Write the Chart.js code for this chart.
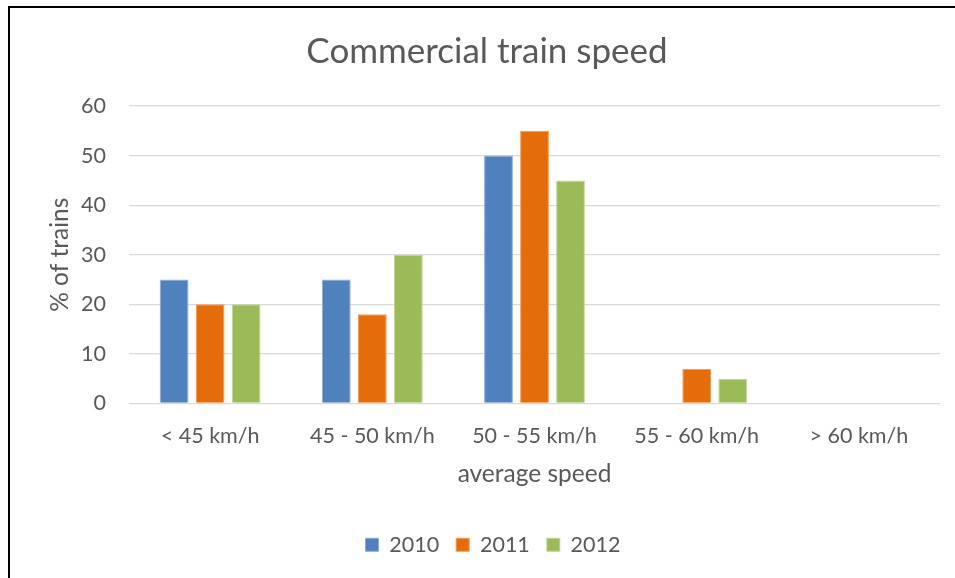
<!DOCTYPE html>
<html>
<head>
<meta charset="utf-8">
<script src="https://cdn.jsdelivr.net/npm/chart.js@4/dist/chart.umd.min.js"></script>
<style>
  html, body { margin: 0; padding: 0; background: #fff; overflow: hidden; }
  #wrap { position: absolute; left: 0; top: 0; width: 955px; height: 578px; }
  #frame { position: absolute; left: 8px; top: 6px; width: 1000px; height: 700px;
           border-left: 2px solid #000; border-top: 2px solid #000; pointer-events: none; }
</style>
</head>
<body>
<div id="wrap"><canvas id="speedChart" width="955" height="578"></canvas></div>
<div id="frame"></div>
<script>
// Chart data
const categories = ['< 45 km/h', '45 - 50 km/h', '50 - 55 km/h', '55 - 60 km/h', '> 60 km/h'];
const years = ['2010', '2011', '2012'];
const values2010 = [25, 25, 50, 0, 0];
const values2011 = [20, 18, 55, 7, 0];
const values2012 = [20, 30, 45, 5, 0];
const yTicks = [0, 10, 20, 30, 40, 50, 60];

const colors = ['#4F81BD', '#E46C0A', '#9BBB59'];
const borders = ['#8EAADB', '#F19A57', '#C0D696'];
const textColor = '#595959';
const fontFamily = 'Lato, "Liberation Sans", sans-serif';

const seriesValues = [values2010, values2011, values2012];

// Nudge title and legend a bit to the right, like the original
const boxShift = {
    id: 'boxShift',
    afterLayout(chart) {
        if (chart.legend) {
            chart.legend.left += 23;
            chart.legend.right += 23;
        }
        if (chart.titleBlock) {
            chart.titleBlock.left += 17;
            chart.titleBlock.right += 17;
        }
    }
};

const ctx = document.getElementById('speedChart');
new Chart(ctx, {
    type: 'bar',
    data: {
        labels: categories,
        datasets: years.map((y, i) => ({
            label: y,
            data: seriesValues[i],
            backgroundColor: colors[i],
            borderColor: borders[i],
            borderWidth: 1,
            categoryPercentage: 0.666,
            barPercentage: 0.8
        }))
    },
    options: {
        responsive: false,
        animation: false,
        layout: { padding: { left: 0, right: 15, top: 0, bottom: 12.5 } },
        plugins: {
            title: {
                display: true,
                text: 'Commercial train speed',
                color: textColor,
                font: { family: fontFamily, size: 35, weight: 'normal' },
                padding: { top: 31, bottom: 33 }
            },
            legend: {
                position: 'bottom',
                labels: {
                    color: textColor,
                    font: { family: fontFamily, size: 21.5 },
                    boxWidth: 13,
                    boxHeight: 13,
                    padding: 17
                }
            },
            tooltip: { enabled: false }
        },
        scales: {
            x: {
                grid: { display: false, drawTicks: false },
                border: { display: false },
                ticks: {
                    color: textColor,
                    font: { family: fontFamily, size: 21.5 },
                    padding: 20,
                    maxRotation: 0
                },
                title: {
                    display: true,
                    text: 'average speed',
                    color: textColor,
                    font: { family: fontFamily, size: 24.5 },
                    padding: { top: 0, bottom: 28.5 }
                },
                afterFit: function(scale) { scale.height = 113.5; }
            },
            y: {
                min: 0,
                max: 60,
                afterBuildTicks: function(scale) {
                    scale.ticks = yTicks.map(v => ({ value: v }));
                },
                grid: { color: '#D9D9D9', lineWidth: 1.3, drawTicks: false },
                border: { display: false },
                ticks: {
                    color: textColor,
                    font: { family: fontFamily, size: 21.5 },
                    padding: 23
                },
                title: {
                    display: true,
                    text: '% of trains',
                    color: textColor,
                    font: { family: fontFamily, size: 24.5 },
                    padding: { top: 45, bottom: 0 }
                },
                afterFit: function(scale) { scale.width = 129; }
            }
        }
    },
    plugins: [boxShift]
});
</script>
</body>
</html>
